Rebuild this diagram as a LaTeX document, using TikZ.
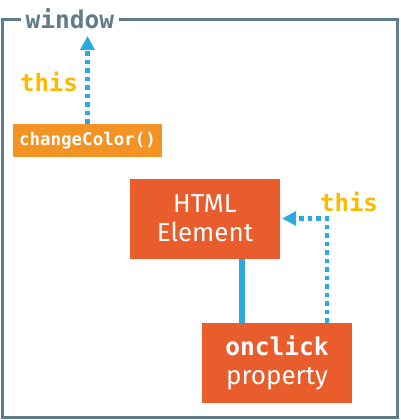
\documentclass[tikz,border=0pt]{standalone}
\usepackage{fontspec}
\setmainfont{Fira Sans}
\setmonofont{DejaVu Sans Mono}
\usetikzlibrary{arrows.meta}
\definecolor{framegray}{RGB}{96,124,138}
\definecolor{fnorange}{RGB}{243,147,35}
\definecolor{elemred}{RGB}{233,92,44}
\definecolor{linkblue}{RGB}{41,171,226}
\definecolor{thisyellow}{RGB}{251,186,0}
\begin{document}
\begin{tikzpicture}[x=1pt,y=-1pt,
		box/.style={fill=elemred, text=white, minimum width=150pt, minimum height=80pt, inner sep=0pt, align=center, font=\fontsize{26}{29}\selectfont},
		fnbox/.style={fill=fnorange, text=white, minimum width=149pt, minimum height=33pt, inner sep=0pt, font=\ttfamily\bfseries\fontsize{17.5}{19}\selectfont},
		thislabel/.style={text=thisyellow, font=\ttfamily\bfseries\fontsize{24}{26}\selectfont},
		link/.style={draw=linkblue, line width=6pt},
		dotlink/.style={draw=linkblue, line width=4.5pt, dash pattern=on 4.5pt off 4pt, -{Triangle[length=14pt,width=14pt]}}]
		\useasboundingbox (0,0) rectangle (400,420);
		% window frame
		\draw[framegray, line width=3pt] (2,20) rectangle (397.5,417.5);
		\node[fill=white, text=framegray, inner xsep=5pt, font=\ttfamily\bfseries\fontsize{24.5}{26}\selectfont] (window) at (70,19) {window};
		% function and its this
		\node[fnbox] (changecolor) at (87.5,140.5) {changeColor()};
		\coordinate (wintop) at (87.5,36);
		\draw[dotlink] (changecolor.north) -- (wintop);
		\node[thislabel] (thisA) at (49,82) {this};
		% element and handler
		\node[box] (html) at (205,218.5) {HTML\\Element};
		\node[box] (onclick) at (277,363) {{\ttfamily\bfseries\fontsize{24.5}{29}\selectfont onclick}\\property};
		\coordinate (lx) at (242,0);
		\coordinate (rx) at (327,0);
		\draw[link] (html.south -| lx) -- (onclick.north -| lx);
		\draw[dotlink] (onclick.north -| rx) |- ([xshift=2pt]html.east);
		\node[thislabel] (thisB) at (349,202) {this};
\end{tikzpicture}
\end{document}
